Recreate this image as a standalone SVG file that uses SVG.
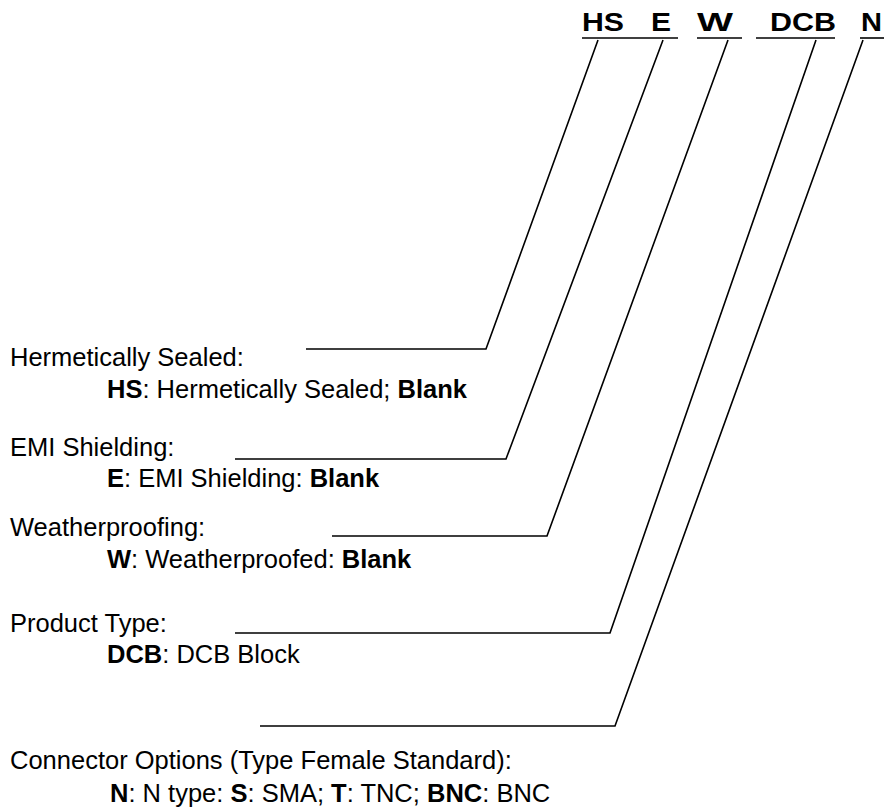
<svg xmlns="http://www.w3.org/2000/svg" width="886" height="807" viewBox="0 0 886 807">
<style>
.t{font-family:"Liberation Sans",Arial,sans-serif;font-size:25.5px;fill:#000}
.b{font-weight:bold}
.code{font-family:"Liberation Sans",Arial,sans-serif;font-size:26px;font-weight:bold;fill:#000}
.ln{fill:none;stroke:#000;stroke-width:1.6}
</style>
<rect width="886" height="807" fill="#fff"/>
<g id="code">
<text class="code" x="582" y="31" textLength="42" lengthAdjust="spacingAndGlyphs">HS</text>
<text class="code" x="651" y="31" textLength="20" lengthAdjust="spacingAndGlyphs">E</text>
<text class="code" x="697" y="31" textLength="36" lengthAdjust="spacingAndGlyphs">W</text>
<text class="code" x="770" y="31" textLength="66" lengthAdjust="spacingAndGlyphs">DCB</text>
<text class="code" x="861" y="31" textLength="21" lengthAdjust="spacingAndGlyphs">N</text>
<g class="ln">
<line x1="582" y1="38" x2="678" y2="38"/>
<line x1="697" y1="38" x2="742" y2="38"/>
<line x1="756" y1="38" x2="835" y2="38"/>
<line x1="860" y1="38" x2="884" y2="38"/>
</g>
</g>
<g id="connectors" class="ln">
<polyline points="598,40 486,349 306,349"/>
<polyline points="663,40 506,459 235,459"/>
<polyline points="728,40 547,536 332,536"/>
<polyline points="816,40 610,633 235,633"/>
<polyline points="863,40 615,726 260,726"/>
</g>
<g id="hs">
<text class="t" x="10" y="366">Hermetically Sealed:</text>
<text class="t" x="107" y="398"><tspan class="b">HS</tspan>: Hermetically Sealed; <tspan class="b">Blank</tspan></text>
</g>
<g id="emi">
<text class="t" x="10" y="456">EMI Shielding:</text>
<text class="t" x="107" y="487"><tspan class="b">E</tspan>: EMI Shielding: <tspan class="b">Blank</tspan></text>
</g>
<g id="weather">
<text class="t" x="10" y="536">Weatherproofing:</text>
<text class="t" x="107" y="568"><tspan class="b">W</tspan>: Weatherproofed: <tspan class="b">Blank</tspan></text>
</g>
<g id="product">
<text class="t" x="10" y="632">Product Type:</text>
<text class="t" x="107" y="663"><tspan class="b">DCB</tspan>: DCB Block</text>
</g>
<g id="connector">
<text class="t" x="10" y="769">Connector Options (Type Female Standard):</text>
<text class="t" x="110" y="802"><tspan class="b">N</tspan>: N type: <tspan class="b">S</tspan>: SMA; <tspan class="b">T</tspan>: TNC; <tspan class="b">BNC</tspan>: BNC</text>
</g>
</svg>
